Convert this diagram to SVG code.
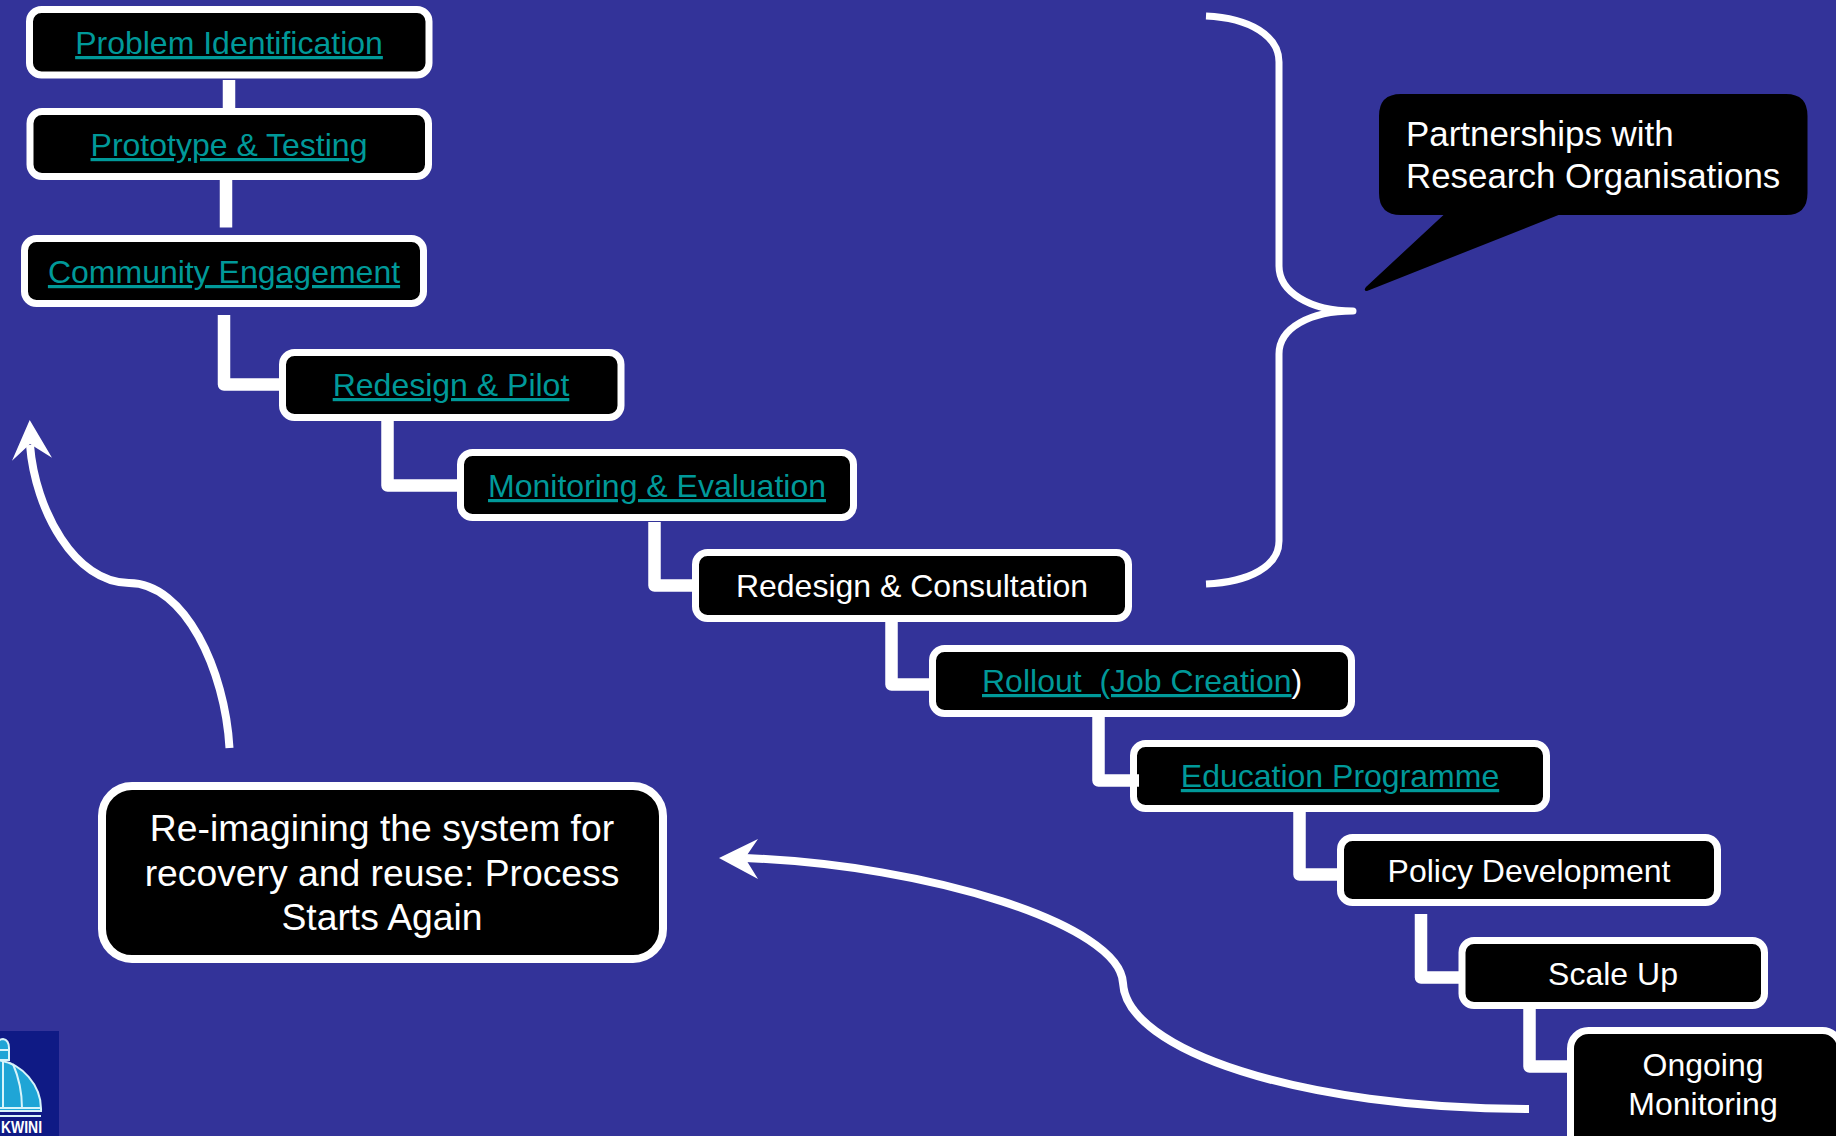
<svg xmlns="http://www.w3.org/2000/svg" width="1836" height="1136" viewBox="0 0 1836 1136">
<style>
.n{fill:#000;stroke:#fff;stroke-width:7}
text{font-family:"Liberation Sans",Arial,sans-serif;fill:#fff;font-size:32px;white-space:pre}
.c{text-anchor:middle}
.l{fill:#009999;text-decoration:underline;text-decoration-thickness:3px;text-underline-offset:3px;text-decoration-skip-ink:none}
.big{font-size:37.300px}
.call{font-size:34.900px}
.con{fill:none;stroke:#fff;stroke-width:12.500;stroke-linejoin:round}
.cur{fill:none;stroke:#fff;stroke-width:8}
.head{fill:#fff}
</style>
<rect width="1836" height="1136" fill="#333399"/>

<g id="logo">
<rect x="0" y="1031" width="59" height="105" fill="#0f1a85"/>
<path d="M-4 1060 C22 1062 42 1086 41 1111 L-4 1111 Z" fill="#1fa5d6" stroke="#d8f4fa" stroke-width="2"/>
<path d="M-4 1060 V1046 Q-2 1039 3 1039 Q9 1040 9 1048 V1060 Z" fill="#1fa5d6" stroke="#d8f4fa" stroke-width="2"/>
<path d="M-4 1050 H9 M3 1062 V1108 M13 1064 C19 1078 22 1094 22 1108 M-4 1108 H41 M-4 1116 H41" fill="none" stroke="#d8f4fa" stroke-width="2"/>
<text x="1" y="1133" textLength="41" lengthAdjust="spacingAndGlyphs" style="font-size:17px;font-weight:700">KWINI</text>
</g>

<g id="node-problem"><rect class="n" x="29.500" y="9.500" width="399.500" height="65.500" rx="12"/><text class="c l" x="229" y="54">Problem Identification</text></g>
<g id="node-prototype"><rect class="n" x="30" y="111.500" width="398.500" height="65" rx="12"/><text class="c l" x="229" y="156">Prototype &amp; Testing</text></g>
<g id="node-community"><rect class="n" x="24.500" y="238.500" width="399" height="65" rx="12"/><text class="c l" x="224" y="283">Community Engagement</text></g>
<g id="node-redesign-pilot"><rect class="n" x="282.500" y="352.500" width="338.500" height="65" rx="12"/><text class="c l" x="451" y="396">Redesign &amp; Pilot</text></g>
<g id="node-monitoring"><rect class="n" x="460.500" y="452.500" width="393" height="65" rx="12"/><text class="c l" x="657" y="497">Monitoring &amp; Evaluation</text></g>
<g id="node-consultation"><rect class="n" x="695.500" y="552.500" width="433" height="66" rx="12"/><text class="c" x="912" y="597">Redesign &amp; Consultation</text></g>
<g id="node-rollout"><rect class="n" x="932.500" y="648.500" width="419" height="65" rx="12"/><text x="982" y="692"><tspan class="l">Rollout  (Job Creation</tspan>)</text></g>
<g id="node-education"><rect class="n" x="1133.500" y="743.500" width="413" height="65" rx="12"/><text class="c l" x="1340" y="787">Education Programme</text></g>
<g id="node-policy"><rect class="n" x="1340.500" y="837.500" width="377" height="65" rx="12"/><text class="c" x="1529" y="882">Policy Development</text></g>
<g id="node-scale"><rect class="n" x="1462" y="940.500" width="302.500" height="65" rx="12"/><text class="c" x="1613" y="985">Scale Up</text></g>
<g id="node-ongoing"><rect class="n" x="1570.500" y="1030.500" width="270" height="130" rx="18"/><text class="c" x="1703" y="1076">Ongoing</text><text class="c" x="1703" y="1115">Monitoring</text></g>
<g id="node-reimagine"><rect class="n" x="102" y="786" width="561" height="173" rx="30" style="stroke-width:8"/><text class="c big" x="382" y="841">Re-imagining the system for</text><text class="c big" x="382" y="886">recovery and reuse: Process</text><text class="c big" x="382" y="930">Starts Again</text></g>
<g id="node-partnerships"><path d="M1401 94 H1786 Q1807.500 94 1807.500 116 V193 Q1807.500 215 1786 215 H1558.500 L1367 291 Q1363 291 1366 287 L1443.500 215 H1401 Q1379 215 1379 193 V116 Q1379 94 1401 94 Z" fill="#000"/><text class="call" x="1406" y="146">Partnerships with</text><text class="call" x="1406" y="188">Research Organisations</text></g>

<g id="connectors">
<path class="con" d="M229 80 V108"/>
<path class="con" d="M226 180 V227.500"/>
<path class="con" d="M224 315 V384.500 H279"/>
<path class="con" d="M387.500 421 V485.500 H458"/>
<path class="con" d="M654.500 522 V585.500 H692"/>
<path class="con" d="M891.500 622 V684.500 H929"/>
<path class="con" d="M1098.500 717 V780.500 H1139"/>
<path class="con" d="M1299.500 812 V874.500 H1337"/>
<path class="con" d="M1421 914 V977.500 H1459"/>
<path class="con" d="M1529.500 1009 V1066.500 H1567"/>
<path d="M1206 16 C1250 18 1279 36 1279 62 V266 C1279 292 1310 311 1353 311 C1310 311 1279 328 1279 354 V541 C1279 566 1250 582 1206 584" fill="none" stroke="#fff" stroke-width="7" stroke-linejoin="round"/>
<path class="cur" d="M229.500 748 C225 670 185 583 129 583 C75 583 35 510 30 445"/>
<path class="head" d="M29.700 420 L52 457.700 L30 444 L12 460.700 Z"/>
<path class="cur" d="M745 858 C930 865 1120 925 1123 983 C1126 1050 1300 1109 1529 1109"/>
<path class="head" d="M719 858 L758 839 L745 858 L758 879 Z"/>
</g>
</svg>
